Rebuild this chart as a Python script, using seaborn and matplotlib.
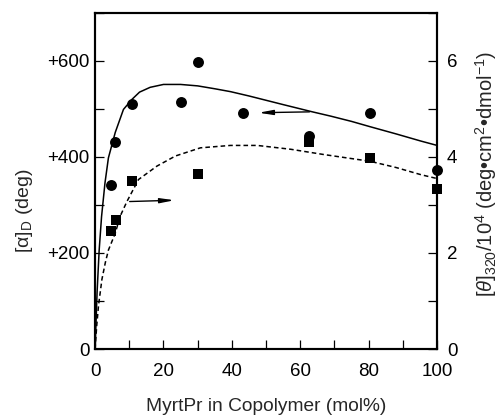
import matplotlib
matplotlib.use("Agg")
import matplotlib.pyplot as plt
from matplotlib.ticker import MultipleLocator, FixedLocator
import pandas as pd
import seaborn as sns

# measured points: [alpha]_D (left axis) and [theta]_320/10^4 (right axis)
x_alpha = [4.6, 5.9, 10.8, 25.1, 30.1, 43.2, 62.5, 80.4, 100]
alpha_d = [342, 431, 511, 515, 597, 492, 444, 491, 372]

x_theta = [4.6, 6.1, 10.8, 30.1, 62.5, 80.4, 100]
theta = [2.45, 2.68, 3.49, 3.65, 4.31, 3.98, 3.34]

# fitted curves
x_fit_alpha = [0, 0.6, 1.2, 1.9, 2.9, 3.9, 5.9, 8.3, 10.8, 13, 16.1, 20, 25, 30,
               35, 39.6, 45, 50, 55, 63.5, 68.9, 75, 80.4, 88, 95.3, 100]
fit_alpha = [0, 120, 206, 276, 346, 398, 451, 499, 520, 535, 545, 551, 551, 548,
             542, 536, 527, 518, 509, 494, 485, 474, 463, 448, 433, 424]

x_fit_theta = [0, 0.5, 1, 2, 3, 3.9, 5.9, 7.3, 9.3, 12.7, 18.1, 23.5, 30.8, 39.6,
               47.4, 57.2, 66.9, 80.4, 88, 95.3, 100]
fit_theta = [0, 0.5, 0.9, 1.45, 1.8, 2.06, 2.41, 2.76, 3.07, 3.53, 3.81, 4.02, 4.19,
             4.24, 4.24, 4.16, 4.05, 3.91, 3.78, 3.63, 3.55]

sns.set_theme(style="ticks")
plt.rcParams["font.family"] = ["Liberation Sans", "DejaVu Sans"]
plt.rcParams["mathtext.fontset"] = "custom"
plt.rcParams["mathtext.rm"] = "Liberation Sans"
plt.rcParams["mathtext.it"] = "Liberation Sans:italic"

fig = plt.figure(figsize=(5.03, 4.16), dpi=100)
ax = fig.add_axes([0.189, 0.161, 0.680, 0.808])
ax2 = ax.twinx()

pts_a = pd.DataFrame({"x": x_alpha, "y": alpha_d})
pts_t = pd.DataFrame({"x": x_theta, "y": theta})
fit_a = pd.DataFrame({"x": x_fit_alpha, "y": fit_alpha})
fit_t = pd.DataFrame({"x": x_fit_theta, "y": fit_theta})

sns.lineplot(data=fit_a, x="x", y="y", ax=ax, color="black", lw=1.1,
             sort=False, estimator=None)
sns.scatterplot(data=pts_a, x="x", y="y", ax=ax, color="black", marker="o",
                s=62, edgecolor="black", linewidth=0, clip_on=False, zorder=5)

sns.lineplot(data=fit_t, x="x", y="y", ax=ax2, color="black", lw=1.1,
             sort=False, estimator=None, linestyle=(0, (3, 2)))
sns.scatterplot(data=pts_t, x="x", y="y", ax=ax2, color="black", marker="s",
                s=62, edgecolor="black", linewidth=0, clip_on=False, zorder=5)

# arrows pointing to the axis each curve belongs to
ax.annotate("", xy=(47.0, 492), xytext=(63.5, 494),
            arrowprops=dict(arrowstyle="-|>,head_length=0.7,head_width=0.12",
                            color="black", lw=1.0))
ax2.annotate("", xy=(24.0, 3.1), xytext=(9.3, 3.07),
             arrowprops=dict(arrowstyle="-|>,head_length=0.7,head_width=0.12",
                             color="black", lw=1.0))

ax.set_xlim(0, 100)
ax.set_ylim(0, 700)
ax2.set_ylim(0, 7)

ax.xaxis.set_major_locator(MultipleLocator(20))
ax.xaxis.set_minor_locator(MultipleLocator(10))
ax.yaxis.set_major_locator(FixedLocator([0, 200, 400, 600]))
ax.yaxis.set_minor_locator(MultipleLocator(100))
ax.set_yticklabels(["0", "+200", "+400", "+600"])
ax2.yaxis.set_major_locator(FixedLocator([0, 2, 4, 6]))
ax2.yaxis.set_minor_locator(MultipleLocator(1))
ax2.set_yticklabels(["0", "2", "4", "6"])

for a in (ax, ax2):
    for s in a.spines.values():
        s.set_linewidth(1.5)
        s.set_color("black")
    a.tick_params(which="both", direction="in", length=6.5, width=0.9,
                  colors="black", labelsize=13.5)
ax.tick_params(axis="x", which="both", pad=10, top=False)
ax.tick_params(axis="y", which="both", pad=4, right=False)
ax2.tick_params(axis="y", which="both", pad=7, left=False)

ax.set_xlabel("MyrtPr in Copolymer (mol%)", fontsize=13.8, labelpad=13)
ax.set_ylabel(r"[$\mathrm{\alpha}$]$_\mathrm{D}$ (deg)", fontsize=14, labelpad=9)
ax2.set_ylabel(r"[$\theta$]$_{320}$/10$^4$ (deg•cm$^2$•dmol$^{-1}$)",
               fontsize=14.5, labelpad=11)
ax.yaxis.label.set_y(0.41)
ax2.yaxis.label.set_y(0.52)

fig.savefig("out.png", dpi=100)
